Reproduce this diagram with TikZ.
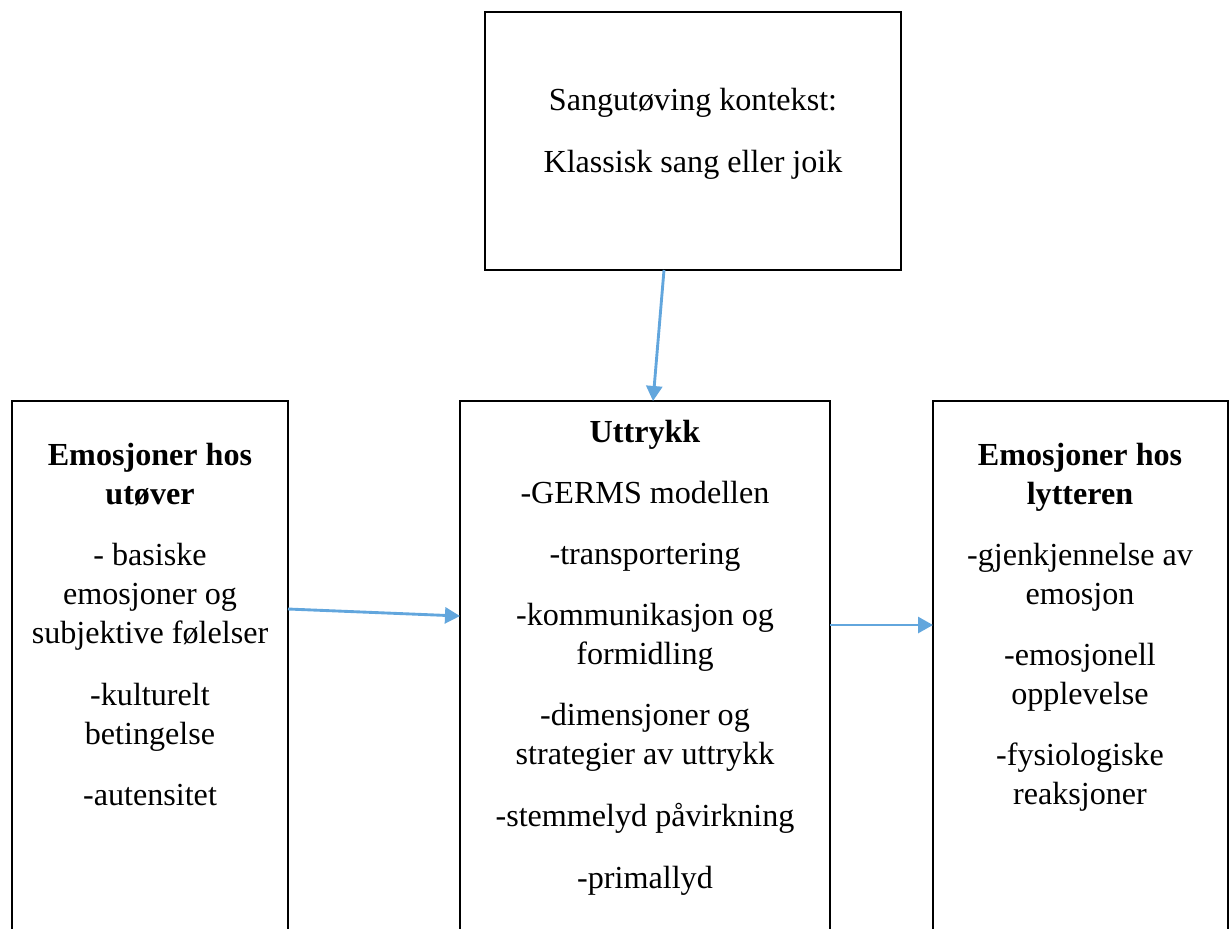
\documentclass[tikz,border=0pt]{standalone}
\usepackage{fontspec}
\setmainfont{Liberation Serif}
\usetikzlibrary{arrows.meta}
\definecolor{arrblue}{HTML}{62A6DD}
\newcommand\tline[4]{\node[txt] (#1) at (#2,#3) {#4};}
\begin{document}
\begin{tikzpicture}[x=0.4pt,y=-0.4pt,
  box/.style={draw=black,line width=1.1pt,inner sep=0pt,outer sep=0pt},
  txt/.style={anchor=base,inner sep=0pt,font=\fontsize{12.85}{15.6}\selectfont},
  head/.style={txt,font=\fontsize{12.85}{15.6}\selectfont\bfseries},
  arr/.style={draw=arrblue,line width=1.15pt,-{Triangle[length=6pt,width=6.4pt]}}]
\useasboundingbox (0,0) rectangle (1232,928);
\clip (0,0) rectangle (1232,928);
% boxes
\node[box,minimum width=166.4pt,minimum height=103.2pt] (top) at (693,141) {};
\node[box,minimum width=110.4pt,minimum height=215.6pt] (left) at (150,670.5) {};
\node[box,minimum width=148pt,minimum height=215.6pt] (mid) at (645,670.5) {};
\node[box,minimum width=118pt,minimum height=215.6pt] (right) at (1080.5,670.5) {};
% top text
\tline{t1}{693}{110}{Sangutøving kontekst:}
\tline{t2}{693}{172}{Klassisk sang eller joik}
% left text
\node[head] (l1) at (150,465) {Emosjoner hos};
\node[head] (l2) at (150,504) {utøver};
\tline{l3}{150}{565}{- basiske}
\tline{l4}{150}{604}{emosjoner og}
\tline{l5}{150}{643}{subjektive følelser}
\tline{l6}{150}{705}{-kulturelt}
\tline{l7}{150}{744}{betingelse}
\tline{l8}{150}{805}{-autensitet}
% middle text
\node[head] (m1) at (645,442) {Uttrykk};
\tline{m2}{645}{503}{-GERMS modellen}
\tline{m3}{645}{564}{-transportering}
\tline{m4}{645}{625}{-kommunikasjon og}
\tline{m5}{645}{664}{formidling}
\tline{m6}{645}{725}{-dimensjoner og}
\tline{m7}{645}{764}{strategier av uttrykk}
\tline{m8}{645}{826}{-stemmelyd påvirkning}
\tline{m9}{645}{888}{-primallyd}
% right text
\node[head] (r1) at (1080,465) {Emosjoner hos};
\node[head] (r2) at (1080,504) {lytteren};
\tline{r3}{1080}{565}{-gjenkjennelse av}
\tline{r4}{1080}{604}{emosjon}
\tline{r5}{1080}{665}{-emosjonell}
\tline{r6}{1080}{704}{opplevelse}
\tline{r7}{1080}{765}{-fysiologiske}
\tline{r8}{1080}{804}{reaksjoner}
% connectors
\draw[arr] ([xshift=-11.6pt]top.south) -- ([xshift=3.2pt]mid.north);
\draw[arr] ([yshift=24.6pt]left.east) -- ([yshift=21.8pt]mid.west);
\draw[arr] ([yshift=18.2pt]mid.east) -- ([yshift=18.2pt]right.west);
\end{tikzpicture}
\end{document}
